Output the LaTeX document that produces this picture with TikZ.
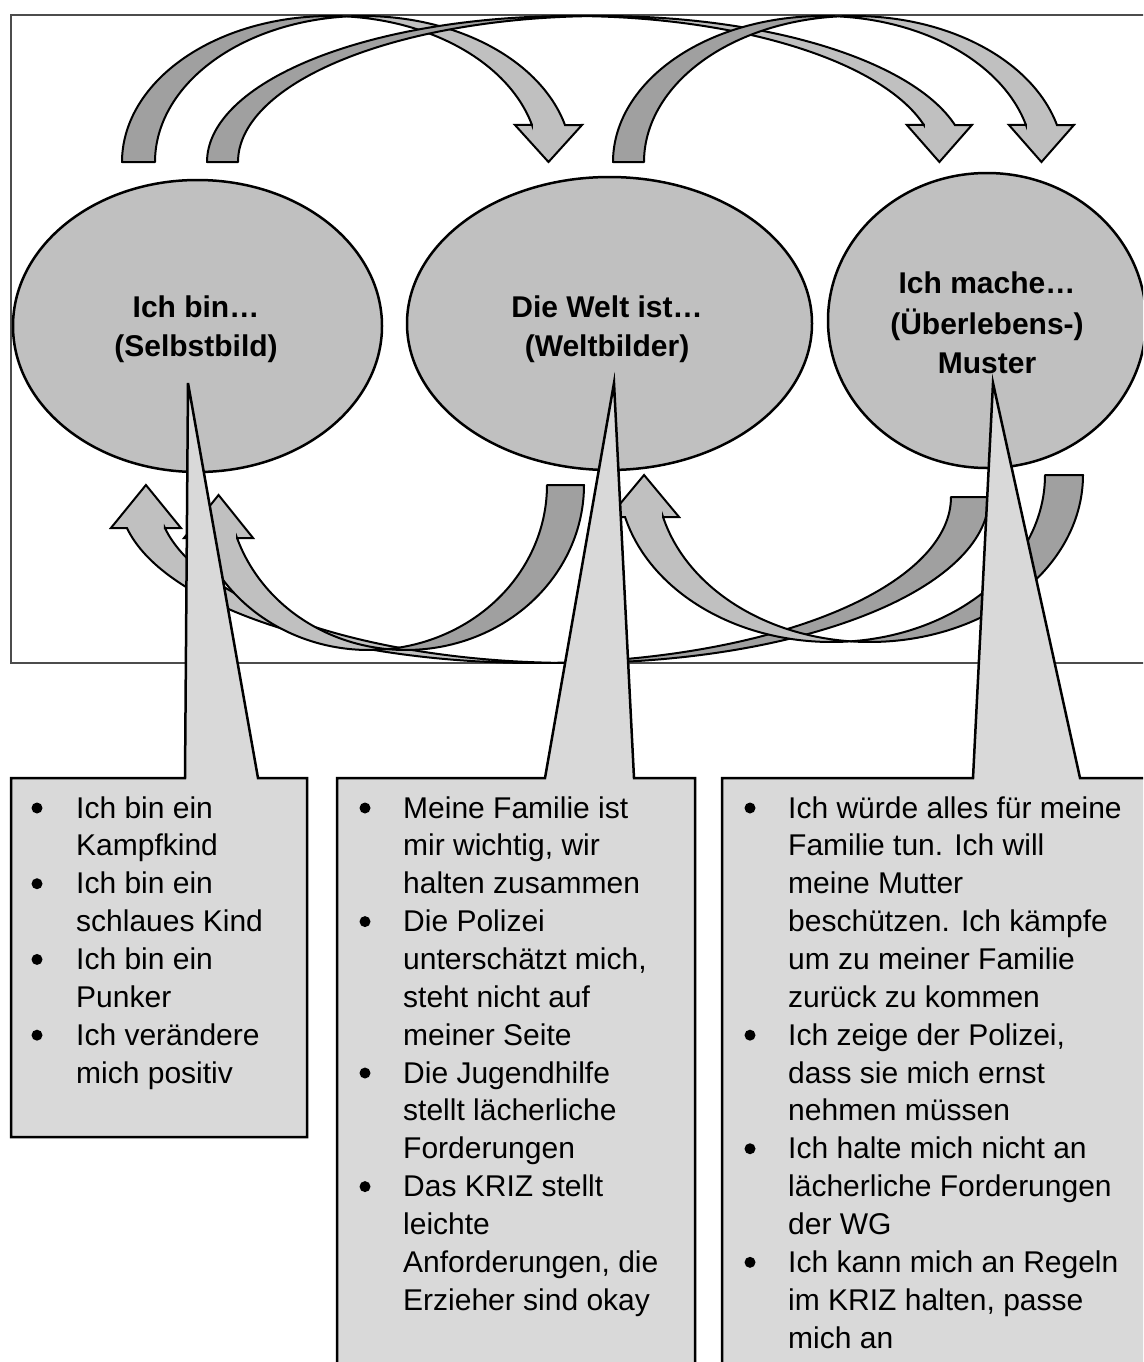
\documentclass[tikz,border=0pt]{standalone}
\usepackage{fontspec}
\setmainfont{Liberation Sans}
\usetikzlibrary{shapes.geometric}
\definecolor{ellgray}{HTML}{C0C0C0}
\definecolor{frontgray}{HTML}{C0C0C0}
\definecolor{backgray}{HTML}{A0A0A0}
\definecolor{boxgray}{HTML}{D9D9D9}

% Curved block arrow arching over the bubbles.
% #1 tail left x, #2 tail/tip y, #3 band width, #4 x radius, #5 y radius, #6 head base y, #7 barb overhang
\newcommand\curvedown[7]{%
  \pgfmathsetmacro\cuCa{#1+#4}%
  \pgfmathsetmacro\cuCb{#1+#4+#3}%
  \pgfmathsetmacro\cuTa{360-acos(#3/(2*#4))}%
  \pgfmathsetmacro\cuTb{360-acos(-#3/(2*#4))}%
  \pgfmathsetmacro\cuTh{360-asin((#2-#6)/#5)}%
  \pgfmathsetmacro\cuHx{\cuCa+#4*cos(\cuTh)}%
  \filldraw[backband] (#1,#2)
    -- plot[domain=180:\cuTa,samples=70] ({\cuCa+#4*cos(\x)},{#2+#5*sin(\x)})
    -- plot[domain=\cuTb:180,samples=70] ({\cuCb+#4*cos(\x)},{#2+#5*sin(\x)}) -- cycle;
  \filldraw[frontband] (\cuHx,#6)
    -- plot[domain=\cuTh:\cuTa,samples=70] ({\cuCa+#4*cos(\x)},{#2+#5*sin(\x)})
    -- plot[domain=\cuTb:\cuTh,samples=70] ({\cuCb+#4*cos(\x)},{#2+#5*sin(\x)})
    -- ({\cuHx+#3+#7},#6) -- ({\cuHx+#3/2},#2) -- ({\cuHx-#7},#6) -- cycle;
}

% Curved block arrow swinging under the bubbles, pointing back up.
% #1 tail right x, #2 tail y, #3 band width, #4 x radius, #5 y radius, #6 head base y, #7 barb overhang, #8 tip y
\newcommand\curveup[8]{%
  \pgfmathsetmacro\cuCa{#1-#4}%
  \pgfmathsetmacro\cuCb{#1-#4-#3}%
  \pgfmathsetmacro\cuTa{acos(-#3/(2*#4))}%
  \pgfmathsetmacro\cuTb{acos(#3/(2*#4))}%
  \pgfmathsetmacro\cuTh{180-asin((#6-#2)/#5)}%
  \pgfmathsetmacro\cuHx{\cuCa+#4*cos(\cuTh)}%
  \filldraw[backband] (#1,#2)
    -- plot[domain=0:\cuTa,samples=70] ({\cuCa+#4*cos(\x)},{#2+#5*sin(\x)})
    -- plot[domain=\cuTb:0,samples=70] ({\cuCb+#4*cos(\x)},{#2+#5*sin(\x)}) -- cycle;
  \filldraw[frontband] (\cuHx,#6)
    -- plot[domain=\cuTh:\cuTa,samples=70] ({\cuCa+#4*cos(\x)},{#2+#5*sin(\x)})
    -- plot[domain=\cuTb:\cuTh,samples=70] ({\cuCb+#4*cos(\x)},{#2+#5*sin(\x)})
    -- ({\cuHx-#3-#7},#6) -- ({\cuHx-#3/2},#8) -- ({\cuHx+#7},#6) -- cycle;
}

\begin{document}
\begin{tikzpicture}[x=1pt,y=-1pt,
  frameline/.style={draw=black!70, line width=1.5pt},
  bubble/.style={ellipse, draw=black, line width=2.5pt, fill=ellgray, inner sep=0pt},
  backband/.style={draw=black, line width=2pt, fill=backgray, line join=round},
  frontband/.style={draw=black, line width=2pt, fill=frontgray, line join=miter},
  callout/.style={draw=black, line width=2.5pt, fill=boxgray, line join=miter},
  title/.style={font=\fontsize{30}{40}\selectfont\bfseries, inner sep=0pt, anchor=base},
  item/.style={font=\fontsize{30}{38}\selectfont, inner sep=0pt, anchor=base west},
  dot/.style={fill=black}
]
\useasboundingbox (0,0) rectangle (1143,1362);
\fill[white] (0,0) rectangle (1143,1362);
\clip (0,0) rectangle (1143,1362);

% framed upper panel
\draw[frameline] (11,15) rectangle (1200,663);

% arrows over the top
\curvedown{122}{162}{33}{208.4}{146}{125}{17}
\curvedown{207}{162}{31}{364.4}{146}{125}{17}
\curvedown{613}{162}{31}{209.9}{146}{125}{17}

% the three bubbles
\node[bubble, minimum width=369pt, minimum height=292pt] (self) at (197.5,326) {};
\node[bubble, minimum width=405pt, minimum height=293pt] (world) at (609.5,323.5) {};
\node[bubble, minimum width=318pt, minimum height=295pt] (pattern) at (987,320.5) {};

% arrows underneath
\curveup{989}{497}{38}{415.7}{166}{528}{16}{485}
\curveup{584}{485}{37}{178.2}{165}{538}{16}{495}
\curveup{1083}{475}{38}{213.4}{167}{517}{16}{475}

% callout boxes with their pointers
\filldraw[callout] (11,778) -- (185,778) -- (188,383) -- (258,778) -- (307,778)
  -- (307,1137) -- (11,1137) -- cycle;
\filldraw[callout] (337,778) -- (545,778) -- (614,383) -- (634,778) -- (695,778)
  -- (695,1400) -- (337,1400) -- cycle;
\filldraw[callout] (722,778) -- (973,778) -- (993,383) -- (1080,778) -- (1180,778)
  -- (1180,1400) -- (722,1400) -- cycle;

% bubble titles
\node[title] (selfA) at (196,317) {Ich bin…};
\node[title] (selfB) at (196,356) {(Selbstbild)};
\node[title] (worldA) at (607,317) {Die Welt ist…};
\node[title] (worldB) at (607,356) {(Weltbilder)};
\node[title] (patA) at (987,293) {Ich mache…};
\node[title] (patB) at (987,334) {(Überlebens-)};
\node[title] (patC) at (987,373) {Muster};

% first box
\foreach \t [count=\k from 0] in {Ich bin ein, Kampfkind, Ich bin ein, schlaues Kind,
    Ich bin ein, Punker, Ich verändere, mich positiv}
  \node[item] (sa\k) at (76,{818+37.86*\k}) {\t};
\foreach \k in {0,2,4,6}
  \fill[dot] (37,{808+37.86*\k}) circle[radius=5.5pt];

% second box
\foreach \t [count=\k from 0] in {Meine Familie ist, {mir wichtig, wir}, halten zusammen,
    Die Polizei, {unterschätzt mich,}, steht nicht auf, meiner Seite, Die Jugendhilfe,
    stellt lächerliche, Forderungen, Das KRIZ stellt, leichte, {Anforderungen, die},
    Erzieher sind okay}
  \node[item] (wb\k) at (403,{818+37.86*\k}) {\t};
\foreach \k in {0,3,7,10}
  \fill[dot] (365,{808+37.86*\k}) circle[radius=5.5pt];

% third box
\foreach \t [count=\k from 0] in {Ich würde alles für meine, Familie tun. Ich will,
    meine Mutter, beschützen. Ich kämpfe, um zu meiner Familie, zurück zu kommen,
    {Ich zeige der Polizei,}, dass sie mich ernst, nehmen müssen, Ich halte mich nicht an,
    lächerliche Forderungen, der WG, Ich kann mich an Regeln, {im KRIZ halten, passe},
    mich an}
  \node[item] (pc\k) at (788,{818+37.86*\k}) {\t};
\foreach \k in {0,6,9,12}
  \fill[dot] (750,{808+37.86*\k}) circle[radius=5.5pt];
\end{tikzpicture}
\end{document}
